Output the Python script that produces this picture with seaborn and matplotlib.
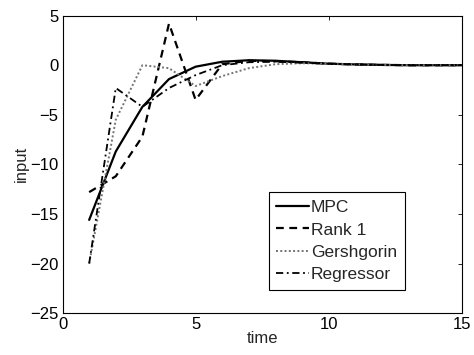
import numpy as np
import pandas as pd
import matplotlib
matplotlib.use("Agg")
import matplotlib.pyplot as plt
import seaborn as sns

# time steps and the four input sequences
time = list(range(1, 16))
mpc = [-15.6, -8.7, -4.2, -1.4, -0.15, 0.35, 0.5, 0.45, 0.3, 0.15, 0.08, 0.03, 0.0, 0.0, 0.0]
rank1 = [-12.8, -11.2, -7.2, 4.2, -3.5, 0.1, 0.45, 0.4, 0.3, 0.15, 0.08, 0.03, 0.0, 0.0, 0.0]
gershgorin = [-20.0, -5.5, 0.0, -0.3, -2.1, -1.1, -0.3, 0.1, 0.2, 0.15, 0.08, 0.03, 0.0, 0.0, 0.0]
regressor = [-20.0, -2.3, -4.2, -2.3, -1.0, 0.0, 0.3, 0.35, 0.25, 0.15, 0.08, 0.03, 0.0, 0.0, 0.0]

series = ["MPC", "Rank 1", "Gershgorin", "Regressor"]
df = pd.DataFrame({
    "time": time * 4,
    "input": mpc + rank1 + gershgorin + regressor,
    "method": sum([[s] * len(time) for s in series], []),
})

sns.set_style("white")
plt.rcParams["font.family"] = ["Liberation Sans", "DejaVu Sans"]
plt.rcParams["font.size"] = 12

fig = plt.figure(figsize=(4.74, 3.55), dpi=100)
ax = fig.add_axes([0.132, 0.118, 0.842, 0.838])

styles = {
    "MPC": dict(color="black", linestyle="-", linewidth=1.6),
    "Rank 1": dict(color="black", linestyle=(0, (3.5, 2.5)), linewidth=1.6),
    "Gershgorin": dict(color="0.45", linestyle=(0, (1, 1.2)), linewidth=1.4),
    "Regressor": dict(color="black", linestyle=(0, (4, 2, 1, 2)), linewidth=1.3),
}
for s in series:
    sns.lineplot(data=df[df["method"] == s], x="time", y="input", ax=ax,
                 label=s, **styles[s])

ax.set_xlim(0, 15)
ax.set_ylim(-25, 5)
ax.set_xticks([0, 5, 10, 15])
ax.set_yticks([-25, -20, -15, -10, -5, 0, 5])
ax.set_yticklabels(["\u221225", "\u221220", "\u221215", "\u221210", "\u22125", "0", "5"])
ax.tick_params(direction="in", length=3, width=0.6, top=True, right=True,
               labelsize=12, colors="black", pad=3)
for sp in ax.spines.values():
    sp.set_color("black")
    sp.set_linewidth(0.8)
ax.set_xlabel("time", fontsize=12, labelpad=-1)
ax.set_ylabel("input", fontsize=12, labelpad=1)

leg = ax.legend(loc="lower right", bbox_to_anchor=(0.858, 0.077),
                fancybox=False, framealpha=1, edgecolor="black",
                handlelength=1.9, handletextpad=0.1, labelspacing=0.42,
                borderpad=0.45, borderaxespad=0, fontsize=12.5)
leg.get_frame().set_linewidth(0.8)

fig.savefig("out.png", dpi=100)
